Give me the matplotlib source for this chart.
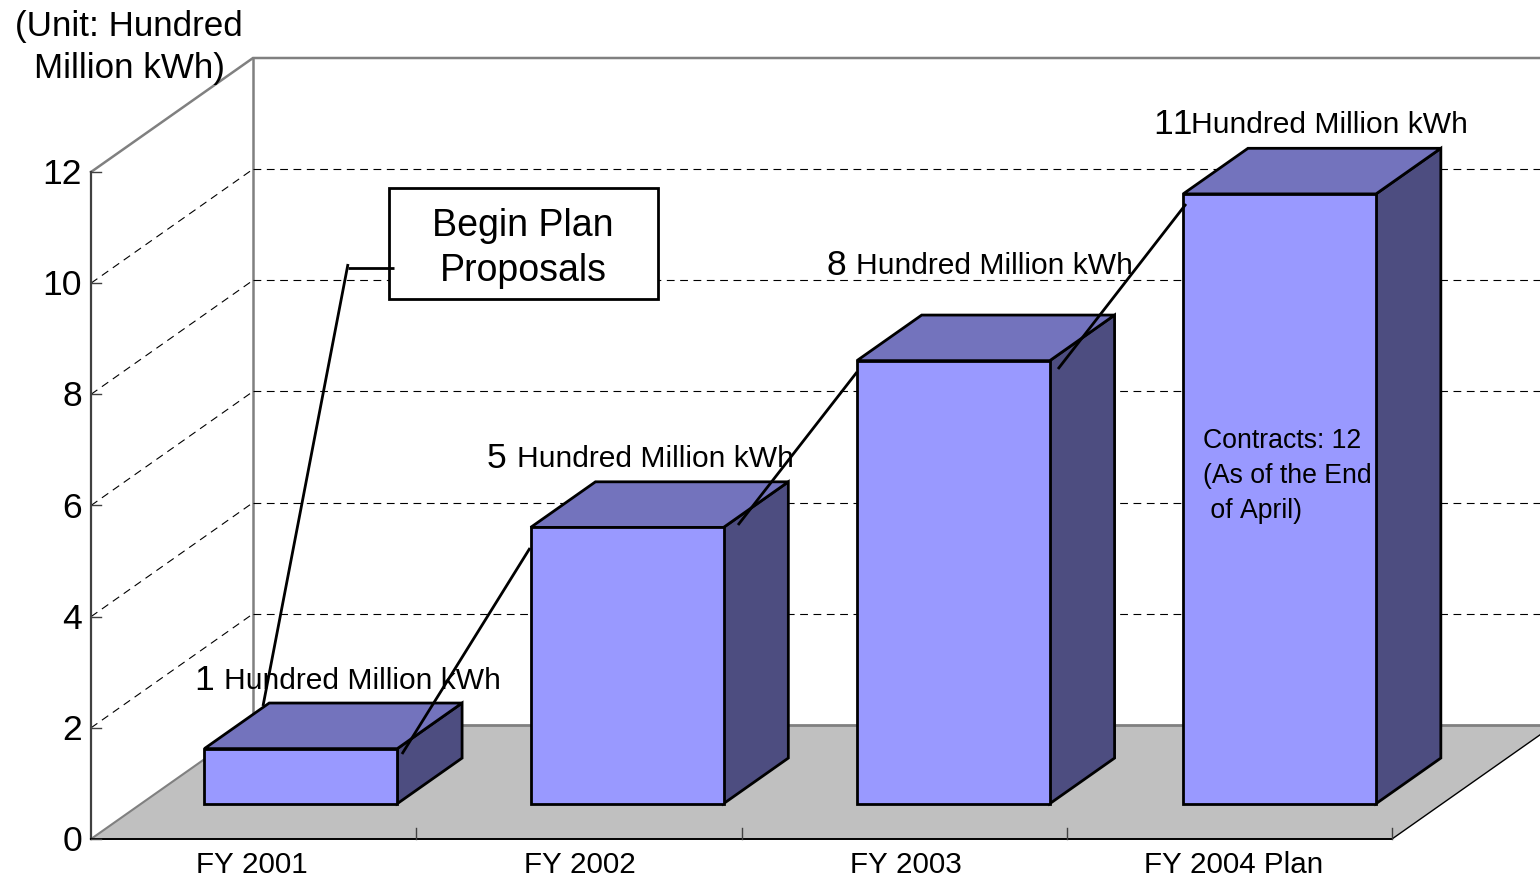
import matplotlib
matplotlib.use("Agg")
import matplotlib.pyplot as plt
from matplotlib.patches import Polygon, Rectangle
from matplotlib.transforms import Affine2D

categories = ["FY 2001", "FY 2002", "FY 2003", "FY 2004 Plan"]
values = [0.99, 4.97, 7.97, 10.97]
y_ticks = [0, 2, 4, 6, 8, 10, 12]

WIDTH, HEIGHT = 1540, 877
FRONT = "#9999FF"
TOP = "#7373BD"
SIDE = "#4D4D80"
FLOOR = "#C0C0C0"
WALL = "#808080"

# layout of the fake 3d box, in reference pixels
LEFT, RIGHT, BASE, VTOP = 91, 1392, 839, 172
DEPTH_X, DEPTH_Y = 162, 114
BAR_WIDTH = 0.593
BAR_DEPTH = 0.40
BAR_OFFSET = 0.31
BAR_NUDGE = [-3, -2, -1, 0]
LABEL_NUDGE = [-2, 1, 2, 4]

PX_X = (RIGHT - LEFT) / len(categories)
PX_Y = (BASE - VTOP) / max(y_ticks)


def project(x, y, depth=0.0):
    # x in categories, y in value units, depth 0 = front, 1 = back wall
    return x + depth * DEPTH_X / PX_X, y + depth * DEPTH_Y / PX_Y


def pt(px):
    # text size given in pixels
    return px * 72 / 100


plt.rcParams["font.family"] = ["Liberation Sans", "DejaVu Sans"]
plt.rcParams["text.kerning_factor"] = 10
fig = plt.figure(figsize=(WIDTH / 100, HEIGHT / 100), dpi=100)
ax = fig.add_axes([0, 0, 1, 1])
ax.set_xlim(-LEFT / PX_X, (WIDTH - LEFT) / PX_X)
ax.set_ylim((BASE - HEIGHT) / PX_Y, BASE / PX_Y)
ax.axis("off")
pixels = Affine2D().scale(1, -1).translate(0, HEIGHT)

n = len(categories)
top_val = max(y_ticks)

# floor
ax.add_patch(Polygon([project(0, 0), project(n, 0), project(n, 0, 1), project(0, 0, 1)],
                     facecolor=FLOOR, edgecolor="none", zorder=1))
ax.plot(*zip(project(0, 0), project(0, 0, 1)), color=WALL, lw=1.5, zorder=2)
ax.plot(*zip(project(0, 0, 1), project(n, 0, 1)), color=WALL, lw=2, zorder=2)
ax.plot(*zip(project(n, 0), project(n, 0, 1)), color="black", lw=1, zorder=2)

# walls
ax.plot(*zip(project(0, top_val), project(0, top_val, 1), project(n, top_val, 1)),
        color=WALL, lw=1.8, zorder=2, solid_joinstyle="miter")
ax.plot(*zip(project(0, 0, 1), project(0, top_val, 1)), color=WALL, lw=1.8, zorder=2)

# gridlines
for tick in y_ticks[1:-1]:
    ax.plot(*zip(project(0, tick), project(0, tick, 1)), color="black", lw=0.8,
            dashes=(7, 5), zorder=2)
for tick in y_ticks[1:-1]:
    ax.plot(*zip(project(0, tick, 1), project(n, tick, 1)), color="black", lw=0.8,
            dashes=(7, 5), zorder=2)

# axes
ax.plot([0, 0], [0, top_val], color="#404040", lw=1.6, zorder=3)
ax.plot([0, n], [0, 0], color="black", lw=1.4, zorder=3)
for tick in y_ticks:
    ax.plot([0, 10 / PX_X], [tick, tick], color="#404040", lw=1, zorder=3)
    ax.text(-9 / PX_X, tick + 1 / PX_Y, str(tick), ha="right", va="center_baseline",
            fontsize=pt(35.5), zorder=6)
for i in range(1, n + 1):
    ax.plot([i, i], [0, 11 / PX_Y], color="#404040", lw=1, zorder=3)

# bars
for i, (name, value) in enumerate(zip(categories, values)):
    mid = i + 0.5 + BAR_NUDGE[i] / PX_X
    x0 = mid - BAR_WIDTH / 2
    x1 = mid + BAR_WIDTH / 2
    d0, d1 = BAR_OFFSET, BAR_OFFSET + BAR_DEPTH
    ax.add_patch(Polygon([project(x1, 0, d0), project(x1, 0, d1),
                          project(x1, value, d1), project(x1, value, d0)],
                         facecolor=SIDE, edgecolor="black", lw=2, zorder=4, joinstyle="miter"))
    ax.add_patch(Polygon([project(x0, value, d0), project(x1, value, d0),
                          project(x1, value, d1), project(x0, value, d1)],
                         facecolor=TOP, edgecolor="black", lw=2, zorder=4, joinstyle="miter"))
    ax.add_patch(Polygon([project(x0, 0, d0), project(x1, 0, d0),
                          project(x1, value, d0), project(x0, value, d0)],
                         facecolor=FRONT, edgecolor="black", lw=2, zorder=4, joinstyle="miter"))
    ax.text(i + 0.5 + LABEL_NUDGE[i] / PX_X, -23 / PX_Y, name, ha="center",
            va="center_baseline", fontsize=pt(29.6), zorder=6)

# leader lines
leaders = [
    [(263, 706), (348, 264)],
    [(348, 268), (394, 268)],
    [(402, 754), (530, 548)],
    [(738, 525), (857, 372)],
    [(1058, 369), (1186, 204)],
]
for line in leaders:
    xs, ys = zip(*line)
    ax.plot(xs, ys, color="black", lw=2, transform=pixels, zorder=7, solid_capstyle="butt")

# value labels, digit is larger than the unit
labels = [("1", 194, 224, 678), ("5", 487, 517, 456), ("8", 826, 856, 263), ("11", 1153, 1191, 122)]
for text, x_num, x_unit, y in labels:
    ax.text(x_num, y - 1, text, fontsize=pt(35.5), ha="left", va="center_baseline",
            transform=pixels, zorder=8)
    ax.text(x_unit, y, "Hundred Million kWh", fontsize=pt(30), ha="left", va="center_baseline",
            transform=pixels, zorder=8)

# callout box
ax.add_patch(Rectangle((389, 188), 269, 111, facecolor="white", edgecolor="black", lw=2,
                       transform=pixels, zorder=6))
ax.text(523, 222, "Begin Plan", fontsize=pt(37.5), ha="center", va="center_baseline",
        transform=pixels, zorder=8)
ax.text(523, 267, "Proposals", fontsize=pt(37.5), ha="center", va="center_baseline",
        transform=pixels, zorder=8)

# unit title
ax.text(129, 23, "(Unit: Hundred", fontsize=pt(35), ha="center", va="center_baseline",
        transform=pixels, zorder=8)
ax.text(129, 65, "Million kWh)", fontsize=pt(35), ha="center", va="center_baseline",
        transform=pixels, zorder=8)

# note on last bar
notes = [("Contracts: 12", 1203, 438), ("(As of the End", 1203, 473), (" of April)", 1203, 508)]
for text, x, y in notes:
    ax.text(x, y, text, fontsize=pt(26.6), ha="left", va="center_baseline",
            transform=pixels, zorder=8)

fig.savefig("out.png", dpi=100)
plt.close(fig)
